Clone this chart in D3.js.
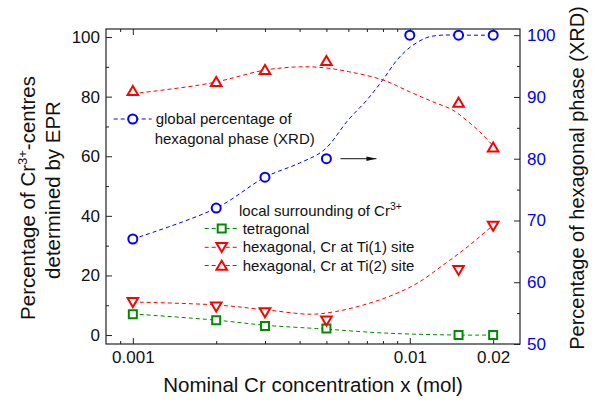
<!DOCTYPE html>
<html>
<head>
<meta charset="utf-8">
<script src="https://cdn.jsdelivr.net/npm/d3@7"></script>
<style>
  body { margin: 0; background: #fff; }
  svg { font-family: Arial, "Liberation Sans", Helvetica, sans-serif; }
</style>
</head>
<body>
<svg id="chart" width="595" height="401"></svg>
<script>
// Measured points
const xrdConc = [0.001, 0.002, 0.003, 0.005, 0.01, 0.015, 0.02];
const xrdHex  = [67, 72, 77, 80, 100, 100, 100];           // right axis, %

const eprConc = [0.001, 0.002, 0.003, 0.005, 0.015, 0.02];
const tetragonal = [7, 5, 3, 2.2, 0, 0];                  // left axis, %
const hexTi1     = [11, 9.5, 7.6, 4.8, 21.8, 36.6];
const hexTi2     = [82, 85, 89, 92, 78, 63];

// Fitted guide curves (sampled)
const xrdFitX = [0.001, 0.002, 0.003, 0.004, 0.0049, 0.006, 0.007, 0.008, 0.009, 0.01, 0.0115, 0.013, 0.015, 0.02];
const xrdFitY = [67, 72, 77, 79.3, 81.4, 86.3, 89.5, 92.8, 96, 98, 99.6, 100, 100, 100];

const ti2FitX = [0.001, 0.0019, 0.003, 0.004, 0.0049, 0.006, 0.008, 0.01, 0.0121, 0.0143, 0.016, 0.0179, 0.0194, 0.02];
const ti2FitY = [81, 84.5, 88.9, 90.0, 89.7, 88.4, 85.6, 81.6, 78.3, 75.5, 72.1, 68.2, 64.8, 63.5];

const ti1FitX = [0.001, 0.002, 0.003, 0.0044, 0.0054, 0.0068, 0.0085, 0.0106, 0.0132, 0.0156, 0.0179, 0.0197, 0.02];
const ti1FitY = [11.1, 10.1, 8.5, 7.0, 7.9, 10.1, 13.1, 17.3, 23.5, 28.5, 33.0, 36.4, 37];

const tetFitX = [0.001, 0.002, 0.003, 0.0046, 0.005, 0.0073, 0.01, 0.015, 0.02];
const tetFitY = [7.1, 5.0, 3.3, 2.2, 2.0, 0.9, 0.35, 0, 0];

// Axis ticks
const xMajor = [0.001, 0.01, 0.02];
const xMinor = [0.0009, 0.002, 0.003, 0.004, 0.005, 0.006, 0.007, 0.008, 0.009];
const yLeftMajor = [0, 20, 40, 60, 80, 100];
const yLeftMinor = [10, 30, 50, 70, 90];
const yRightMajor = [50, 60, 70, 80, 90, 100];
const yRightMinor = [55, 65, 75, 85, 95];

const BLUE = "#0000ff", RED = "#ff0000", GREEN = "#008a00";
const AXIS = "#222";

const svg = d3.select("#chart");
const L = 106, R = 520, T = 29, B = 344;

const x  = d3.scaleLog().domain([0.0008, 0.025]).range([L, R]);
const yL = d3.scaleLinear().domain([-3, 102.7]).range([B, T]);
const yR = d3.scaleLinear().domain([50, 101]).range([B, T]);

// Frame and axes
function styleAxis(g) {
  g.select(".domain").remove();
  g.selectAll(".tick line").attr("stroke", AXIS).attr("stroke-width", 1);
  g.selectAll(".tick text").attr("font-size", 17).attr("fill", "#111");
}
const fmtX = d => d === 0.001 ? "0.001" : d === 0.01 ? "0.01" : "0.02";

svg.append("g").attr("transform", `translate(0,${B})`)
  .call(d3.axisBottom(x).tickValues(xMajor).tickSize(-6).tickPadding(7).tickFormat(fmtX))
  .call(styleAxis);
svg.append("g").attr("transform", `translate(0,${B})`)
  .call(d3.axisBottom(x).tickValues(xMinor).tickSize(-3).tickFormat(""))
  .call(styleAxis);
svg.append("g").attr("transform", `translate(0,${T})`)
  .call(d3.axisTop(x).tickValues(xMajor).tickSize(-6).tickFormat(""))
  .call(styleAxis);
svg.append("g").attr("transform", `translate(0,${T})`)
  .call(d3.axisTop(x).tickValues(xMinor).tickSize(-3).tickFormat(""))
  .call(styleAxis);

svg.append("g").attr("transform", `translate(${L},0)`)
  .call(d3.axisLeft(yL).tickValues(yLeftMajor).tickSize(-6).tickPadding(6))
  .call(styleAxis);
svg.append("g").attr("transform", `translate(${L},0)`)
  .call(d3.axisLeft(yL).tickValues(yLeftMinor).tickSize(-3).tickFormat(""))
  .call(styleAxis);

const gR = svg.append("g").attr("transform", `translate(${R},0)`)
  .call(d3.axisRight(yR).tickValues(yRightMajor).tickSize(-6).tickPadding(7))
  .call(styleAxis);
gR.selectAll(".tick text").attr("fill", BLUE);
svg.append("g").attr("transform", `translate(${R},0)`)
  .call(d3.axisRight(yR).tickValues(yRightMinor).tickSize(-3).tickFormat(""))
  .call(styleAxis);

svg.append("rect").attr("x", L).attr("y", T).attr("width", R - L).attr("height", B - T)
  .attr("fill", "none").attr("stroke", AXIS).attr("stroke-width", 1.2);

// Axis titles
svg.append("text").attr("x", (L + R) / 2).attr("y", 392).attr("text-anchor", "middle")
  .attr("font-size", 20.5).attr("fill", "#111").text("Nominal Cr concentration x (mol)");

const tl = svg.append("text").attr("transform", "translate(35,198) rotate(-90)")
  .attr("text-anchor", "middle").attr("font-size", 20.5).attr("fill", "#111");
tl.append("tspan").text("Percentage of Cr");
tl.append("tspan").attr("font-size", 13).attr("dy", -8).text("3+");
tl.append("tspan").attr("dy", 8).text("-centres");
svg.append("text").attr("transform", "translate(60,190) rotate(-90)")
  .attr("text-anchor", "middle").attr("font-size", 20.5).attr("fill", "#111")
  .text("determined by EPR");

svg.append("text").attr("transform", "translate(584,178) rotate(-90)")
  .attr("text-anchor", "middle").attr("font-size", 20).attr("fill", "#111")
  .text("Percentage of hexagonal phase (XRD)");

// Guide curves
const lineL = d3.line().x((d, i, a) => x(d[0])).y(d => yL(d[1])).curve(d3.curveCatmullRom);
const lineR = d3.line().x(d => x(d[0])).y(d => yR(d[1])).curve(d3.curveCatmullRom);
const zip = (a, b) => a.map((v, i) => [v, b[i]]);

function dashed(path, color) {
  svg.append("path").attr("d", path).attr("fill", "none").attr("stroke", color)
    .attr("stroke-width", 1).attr("stroke-dasharray", "4,3");
}
dashed(lineR(zip(xrdFitX, xrdFitY)), BLUE);
dashed(lineL(zip(ti2FitX, ti2FitY)), RED);
dashed(lineL(zip(ti1FitX, ti1FitY)), RED);
dashed(lineL(zip(tetFitX, tetFitY)), GREEN);

// Marker shapes
const shapes = {
  circle: "M4.5,0A4.5,4.5 0 1,1 -4.5,0A4.5,4.5 0 1,1 4.5,0Z",
  square: "M-4,-4H4V4H-4Z",
  up: "M0,-4.8L5.3,4.2H-5.3Z",
  down: "M0,4.8L5.3,-4.2H-5.3Z"
};
function markers(xs, ys, scale, shape, color) {
  svg.append("g").selectAll("path").data(zip(xs, ys)).join("path")
    .attr("transform", d => `translate(${x(d[0])},${scale(d[1])})`)
    .attr("d", shapes[shape]).attr("fill", "#fff")
    .attr("stroke", color).attr("stroke-width", 2);
}
markers(eprConc, tetragonal, yL, "square", GREEN);
markers(eprConc, hexTi1, yL, "down", RED);
markers(eprConc, hexTi2, yL, "up", RED);
markers(xrdConc, xrdHex, yR, "circle", BLUE);

// Arrow pointing to the right axis
svg.append("defs").append("marker").attr("id", "arrowhead")
  .attr("viewBox", "0 0 10 6").attr("refX", 10).attr("refY", 3)
  .attr("markerWidth", 10).attr("markerHeight", 6).attr("markerUnits", "userSpaceOnUse")
  .attr("orient", "auto")
  .append("path").attr("d", "M0,0.8L10,3L0,5.2Z").attr("fill", "#111");
svg.append("line").attr("x1", x(0.005) + 14).attr("x2", x(0.005) + 50)
  .attr("y1", yR(80)).attr("y2", yR(80))
  .attr("stroke", "#111").attr("stroke-width", 1).attr("marker-end", "url(#arrowhead)");

// Legends
function legendItem(cx, cy, shape, color, label, lineHalf) {
  svg.append("line").attr("x1", cx - lineHalf).attr("x2", cx + lineHalf)
    .attr("y1", cy).attr("y2", cy).attr("stroke", color).attr("stroke-width", 1)
    .attr("stroke-dasharray", "4,3");
  svg.append("path").attr("transform", `translate(${cx},${cy})`).attr("d", shapes[shape])
    .attr("fill", "#fff").attr("stroke", color).attr("stroke-width", 2);
  if (label) {
    svg.append("text").attr("x", cx + lineHalf + 4).attr("y", cy + 5)
      .attr("font-size", 15).attr("fill", "#111").text(label);
  }
}
legendItem(132.7, 119, "circle", BLUE, "global percentage of", 19);
svg.append("text").attr("x", 154.7).attr("y", 143.5).attr("font-size", 15).attr("fill", "#111")
  .text("hexagonal phase (XRD)");

const lt = svg.append("text").attr("x", 239).attr("y", 216).attr("font-size", 15).attr("fill", "#111");
lt.append("tspan").text("local surrounding of Cr");
lt.append("tspan").attr("font-size", 10.5).attr("dy", -6).text("3+");

legendItem(221.7, 228.5, "square", GREEN, "tetragonal", 17);
legendItem(221.7, 247.3, "down", RED, "hexagonal, Cr at Ti(1) site", 17);
legendItem(221.7, 265.5, "up", RED, "hexagonal, Cr at Ti(2) site", 17);
</script>
</body>
</html>
